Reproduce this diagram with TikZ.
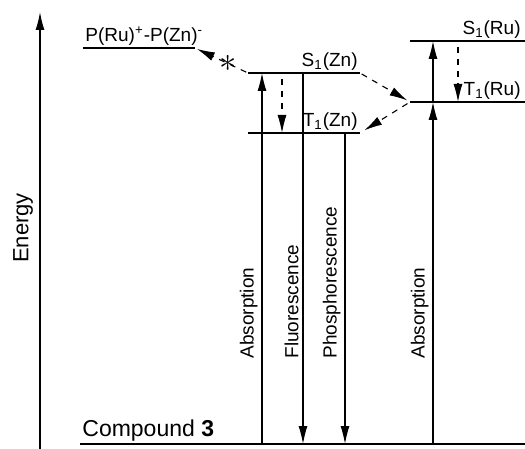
\documentclass[tikz,border=0pt]{standalone}
\usepackage{fontspec}
\setmainfont{Liberation Sans}
\usetikzlibrary{arrows.meta}

\begin{document}
\begin{tikzpicture}[
    x=0.5pt, y=-0.5pt,
    level/.style={line width=0.9pt},
    arrow/.style={-{Latex[length=9pt,width=4.5pt]}, line width=0.55pt},
    darrow/.style={arrow, dashed},
    lbl/.style={font=\fontsize{9.5}{11}\selectfont, inner sep=1pt},
    vlbl/.style={lbl, rotate=90, anchor=south west, inner sep=2pt}
]
\useasboundingbox (0,0) rectangle (525,449);

% energy axis
\coordinate (axisbot) at (40,449);
\coordinate (axistop) at (40,12);
\draw[arrow, line width=0.7pt] (axisbot) -- (axistop);
\node[font=\fontsize{11}{13}\selectfont, rotate=90] (energy) at (23,228) {Energy};

% levels
\coordinate (gnd) at (80,444);
\coordinate (cs) at (83,48);
\coordinate (s1zn) at (248,73);
\coordinate (t1zn) at (248,133);
\coordinate (s1ru) at (410,41);
\coordinate (t1ru) at (410,102);

\draw[level] (gnd) -- ++(445,0);
\draw[level] (cs) -- ++(112,0) coordinate (csr);
\draw[level] (s1zn) -- ++(112,0) coordinate (s1znr);
\draw[level] (t1zn) -- ++(112,0) coordinate (t1znr);
\draw[level] (s1ru) -- ++(115,0) coordinate (s1rur);
\draw[level] (t1ru) -- ++(115,0) coordinate (t1rur);

\node[lbl, anchor=south west] (cslbl) at (cs) {P(Ru)\textsuperscript{+}-P(Zn)\textsuperscript{-}};
\node[lbl, anchor=south east] (s1znlbl) at (s1znr) {S\textsubscript{1}(Zn)};
\node[lbl, anchor=south east] (t1znlbl) at (t1znr) {T\textsubscript{1}(Zn)};
\node[lbl, anchor=south east] (s1rulbl) at ([xshift=-1pt]s1rur) {S\textsubscript{1}(Ru)};
\node[lbl, anchor=south east] (t1rulbl) at ([xshift=-1pt]t1rur) {T\textsubscript{1}(Ru)};
\node[font=\fontsize{11.5}{13}\selectfont, anchor=south west, inner sep=1pt] (cmpd) at (gnd) {Compound \textbf{3}};

% columns of the transitions
\coordinate (xabszn) at (262,0);
\coordinate (xfl) at (303,0);
\coordinate (xph) at (345,0);
\coordinate (xisczn) at (282,0);
\coordinate (xabsru) at (433,0);
\coordinate (xiscru) at (458,0);
\coordinate (lblbase) at (0,363);

\draw[arrow] (xabszn |- gnd) -- (xabszn |- s1zn);
\draw[arrow] (xfl |- s1zn) -- (xfl |- gnd);
\draw[arrow] (xph |- t1zn) -- (xph |- gnd);
\draw[darrow, shorten <=3pt] (xisczn |- s1zn) -- (xisczn |- t1zn);
\draw[arrow] (xabsru |- gnd) -- (xabsru |- t1ru);
\draw[arrow] (xabsru |- t1ru) -- (xabsru |- s1ru);
\draw[darrow, shorten <=3pt] (xiscru |- s1ru) -- (xiscru |- t1ru);

\node[vlbl] (absznlbl) at (xabszn |- lblbase) {Absorption};
\node[vlbl] (fllbl) at (xfl |- lblbase) {Fluorescence};
\node[vlbl] (phlbl) at (xph |- lblbase) {Phosphorescence};
\node[vlbl] (absrulbl) at (xabsru |- lblbase) {Absorption};

% energy transfer and charge separation
\draw[darrow, shorten <=1pt, shorten >=1.5pt] (s1znr) -- (t1ru);
\draw[darrow, shorten <=1.5pt, shorten >=2.5pt] (t1ru) -- (t1znr);
\draw[darrow, shorten <=1pt, shorten >=1pt] (s1zn) -- node[pos=0.38, inner sep=0pt, font=\LARGE] (ast) {$\ast$} (csr);

\end{tikzpicture}
\end{document}
